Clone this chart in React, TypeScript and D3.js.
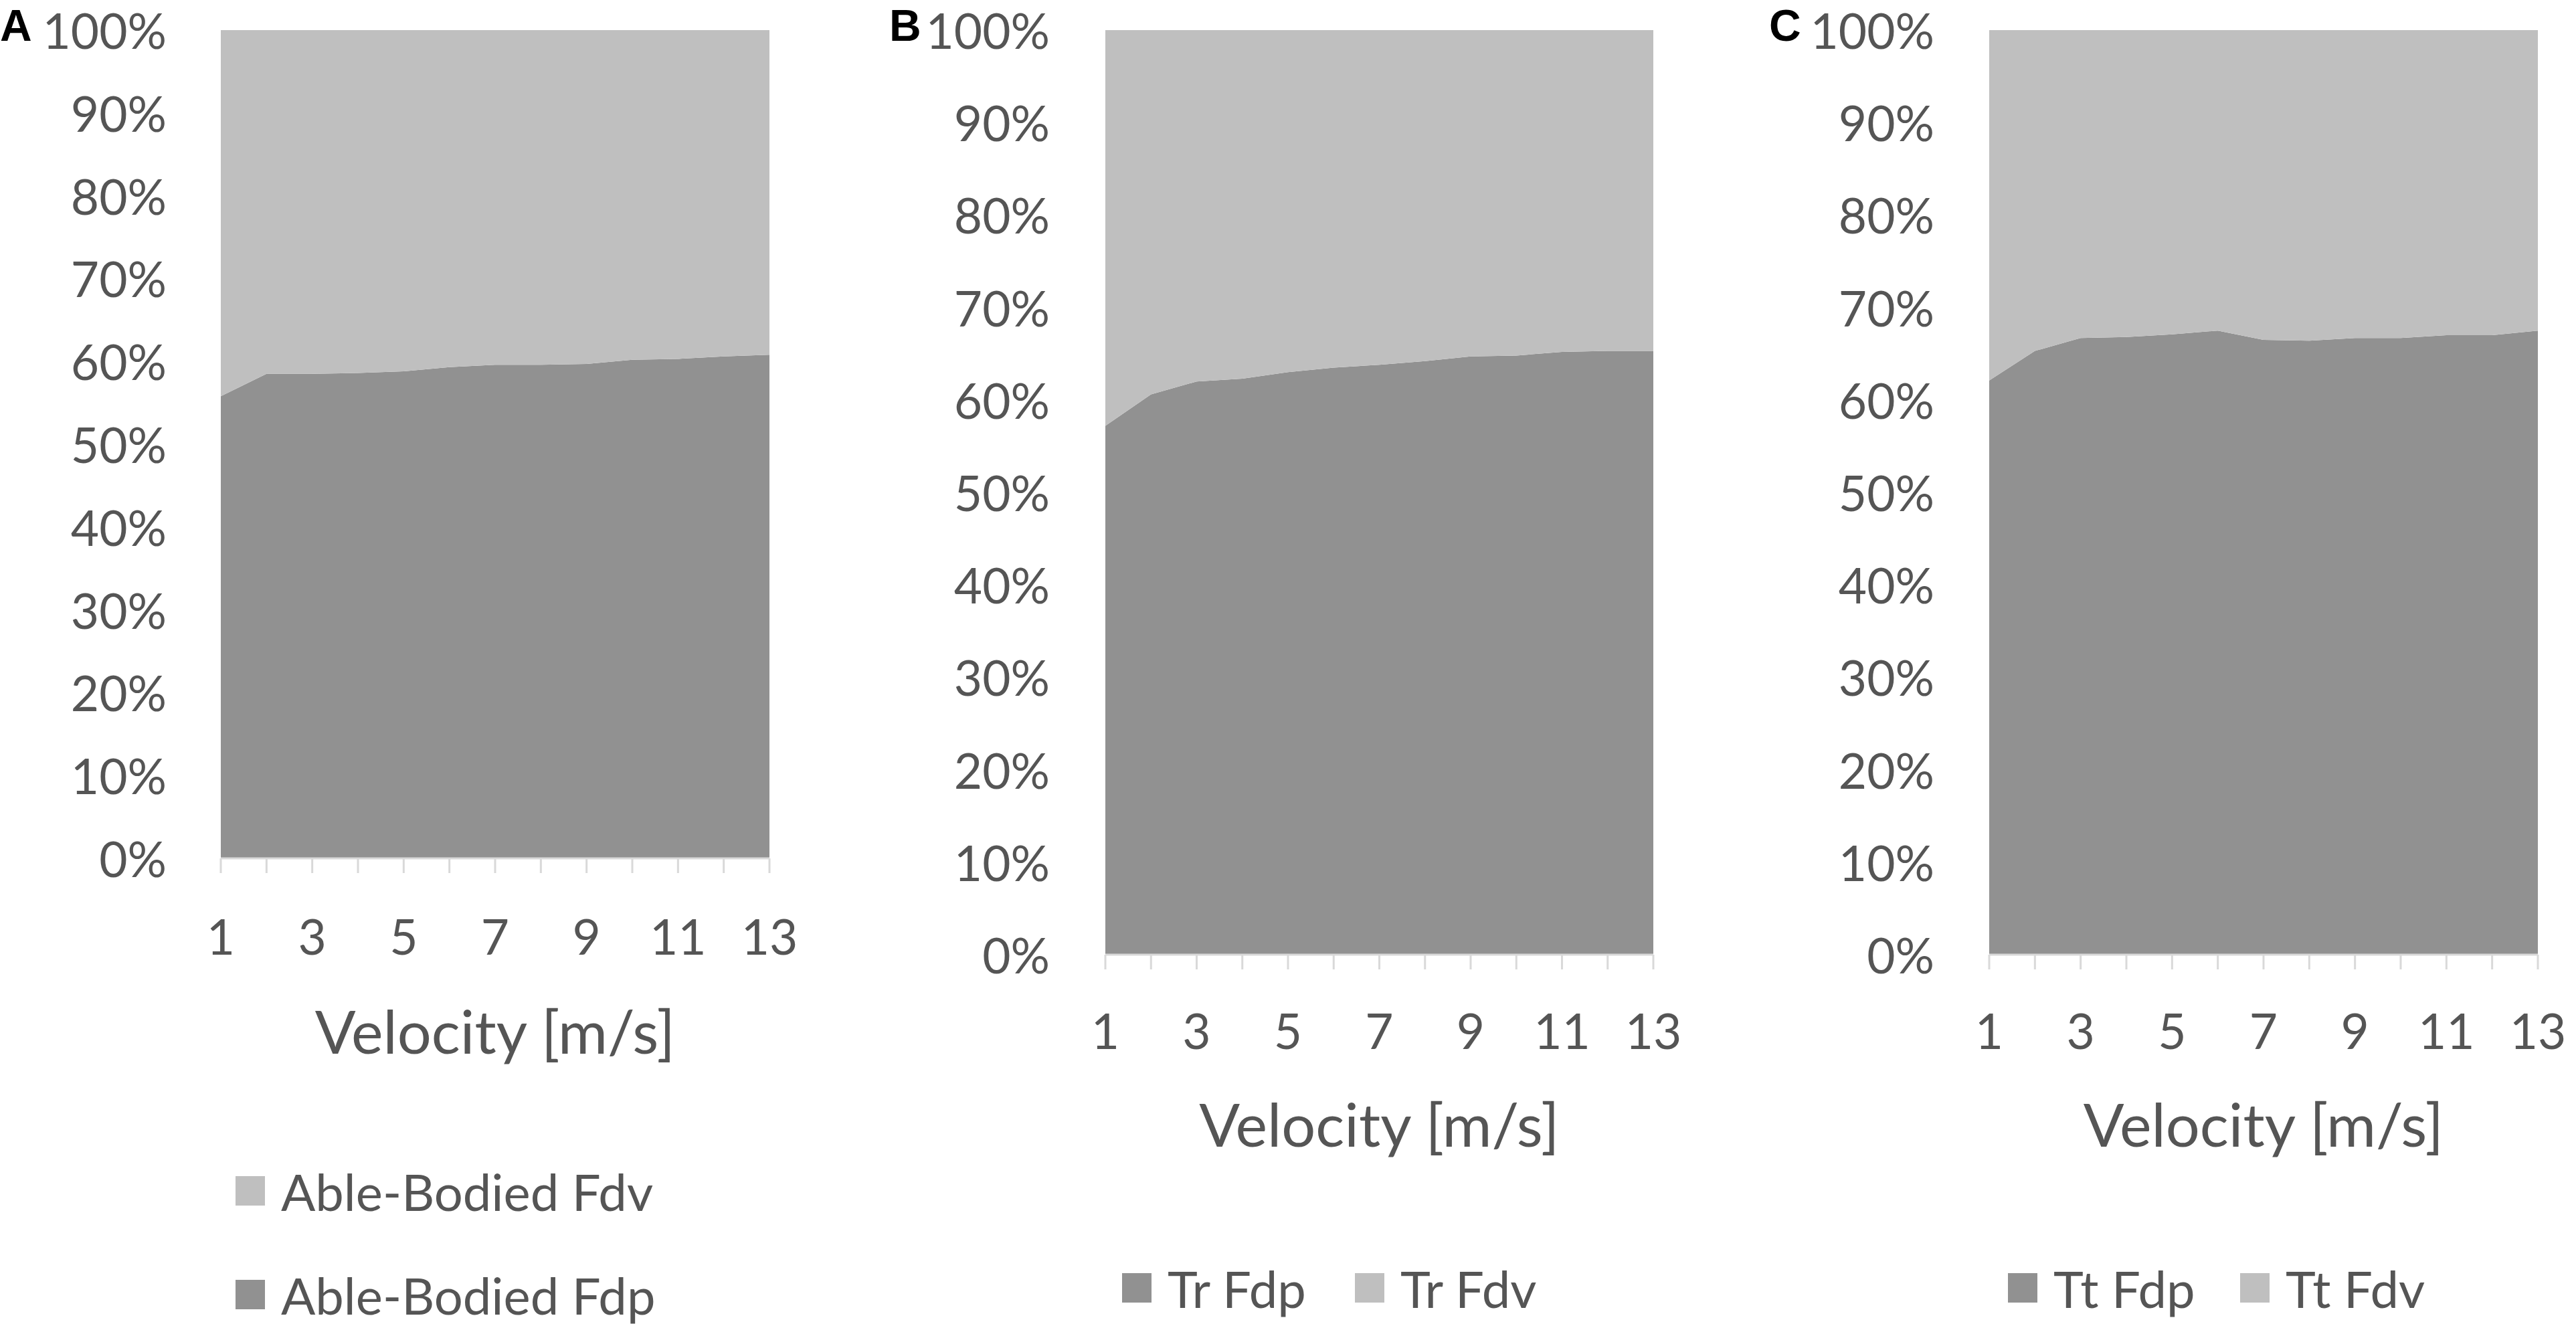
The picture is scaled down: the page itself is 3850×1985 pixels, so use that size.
import React from "react";
import * as d3 from "d3";

const velocities = [1, 2, 3, 4, 5, 6, 7, 8, 9, 10, 11, 12, 13];
const xTickLabels = [1, 3, 5, 7, 9, 11, 13];
const yTickValues = [0, 10, 20, 30, 40, 50, 60, 70, 80, 90, 100];

const ableFdp = [55.8, 58.5, 58.5, 58.6, 58.8, 59.3, 59.6, 59.6, 59.7, 60.2, 60.3, 60.6, 60.8];
const ableFdv = [44.2, 41.5, 41.5, 41.4, 41.2, 40.7, 40.4, 40.4, 40.3, 39.8, 39.7, 39.4, 39.2];

const trFdp = [57.2, 60.6, 62.0, 62.3, 63.0, 63.5, 63.8, 64.2, 64.7, 64.8, 65.2, 65.3, 65.3];
const trFdv = [42.8, 39.4, 38.0, 37.7, 37.0, 36.5, 36.2, 35.8, 35.3, 35.2, 34.8, 34.7, 34.7];

const ttFdp = [62.1, 65.3, 66.7, 66.8, 67.1, 67.5, 66.5, 66.4, 66.7, 66.7, 67.0, 67.0, 67.5];
const ttFdv = [37.9, 34.7, 33.3, 33.2, 32.9, 32.5, 33.5, 33.6, 33.3, 33.3, 33.0, 33.0, 32.5];

const DARK = "#919191";
const LIGHT = "#bfbfbf";
const TEXT = "#555555";
const FONT = "Lato, 'Open Sans', sans-serif";

type LegendItem = { label: string; color: string; x: number; y: number };

type PanelSpec = {
  letter: string;
  letterX: number;
  left: number;
  right: number;
  top: number;
  bottom: number;
  yLabelRight: number;
  xTickY: number;
  xTitleY: number;
  fdp: number[];
  fdv: number[];
  legend: LegendItem[];
};

const panels: PanelSpec[] = [
  {
    letter: "A",
    letterX: 0,
    left: 330,
    right: 1150,
    top: 45,
    bottom: 1283,
    yLabelRight: 249,
    xTickY: 1399,
    xTitleY: 1540,
    fdp: ableFdp,
    fdv: ableFdv,
    legend: [
      { label: "Able-Bodied Fdv", color: LIGHT, x: 352, y: 1780 },
      { label: "Able-Bodied Fdp", color: DARK, x: 352, y: 1935 },
    ],
  },
  {
    letter: "B",
    letterX: 1329,
    left: 1652,
    right: 2471,
    top: 45,
    bottom: 1427,
    yLabelRight: 1569,
    xTickY: 1540,
    xTitleY: 1679,
    fdp: trFdp,
    fdv: trFdv,
    legend: [
      { label: "Tr Fdp", color: DARK, x: 1677, y: 1925 },
      { label: "Tr Fdv", color: LIGHT, x: 2025, y: 1925 },
    ],
  },
  {
    letter: "C",
    letterX: 2644,
    left: 2973,
    right: 3793,
    top: 45,
    bottom: 1427,
    yLabelRight: 2891,
    xTickY: 1540,
    xTitleY: 1679,
    fdp: ttFdp,
    fdv: ttFdv,
    legend: [
      { label: "Tt Fdp", color: DARK, x: 3001, y: 1925 },
      { label: "Tt Fdv", color: LIGHT, x: 3348, y: 1925 },
    ],
  },
];

function Panel({ p }: { p: PanelSpec }) {
  const x = d3.scaleLinear().domain([1, 13]).range([p.left, p.right]);
  const y = d3.scaleLinear().domain([0, 1]).range([p.bottom, p.top]);

  const rows = velocities.map((v, i) => ({ v, fdp: p.fdp[i], fdv: p.fdv[i] }));
  const stack = d3
    .stack<{ v: number; fdp: number; fdv: number }>()
    .keys(["fdp", "fdv"])
    .offset(d3.stackOffsetExpand);
  const series = stack(rows);
  const area = d3
    .area<any>()
    .x((d) => x(d.data.v))
    .y0((d) => y(d[0]))
    .y1((d) => y(d[1]));
  const colors = [DARK, LIGHT];
  const markerSize = 44;

  return (
    <g>
      <text
        x={p.letterX}
        y={61}
        fontFamily="'Liberation Sans', Arial, sans-serif"
        fontWeight="bold"
        fontSize={66}
        fill="#000"
      >
        {p.letter}
      </text>
      {series.map((s, i) => (
        <path key={i} d={area(s) || ""} fill={colors[i]} />
      ))}
      <line x1={p.left} x2={p.right} y1={p.bottom} y2={p.bottom} stroke="#d9d9d9" strokeWidth={3} />
      {velocities.map((v) => (
        <line
          key={v}
          x1={x(v)}
          x2={x(v)}
          y1={p.bottom}
          y2={p.bottom + 22}
          stroke="#d9d9d9"
          strokeWidth={3}
        />
      ))}
      {yTickValues.map((t) => (
        <text
          key={t}
          x={p.yLabelRight}
          y={y(t / 100)}
          textAnchor="end"
          dominantBaseline="central"
          fontFamily={FONT}
          fontSize={73}
          fill={TEXT}
        >
          {t + "%"}
        </text>
      ))}
      {xTickLabels.map((t) => (
        <text
          key={t}
          x={x(t)}
          y={p.xTickY}
          textAnchor="middle"
          dominantBaseline="central"
          fontFamily={FONT}
          fontSize={73}
          fill={TEXT}
        >
          {t}
        </text>
      ))}
      <text
        x={(p.left + p.right) / 2}
        y={p.xTitleY}
        textAnchor="middle"
        dominantBaseline="central"
        fontFamily={FONT}
        fontSize={90}
        fill={TEXT}
      >
        Velocity [m/s]
      </text>
      {p.legend.map((l) => (
        <g key={l.label}>
          <rect x={l.x} y={l.y - markerSize / 2} width={markerSize} height={markerSize} fill={l.color} />
          <text
            x={l.x + markerSize + 24}
            y={l.y}
            dominantBaseline="central"
            fontFamily={FONT}
            fontSize={76}
            fill={TEXT}
          >
            {l.label}
          </text>
        </g>
      ))}
    </g>
  );
}

export default function App() {
  return (
    <svg
      width={3850}
      height={1985}
      viewBox="0 0 3850 1985"
      style={{ position: "absolute", left: 0, top: 0, background: "#fff", display: "block" }}
    >
      <rect x={0} y={0} width={3850} height={1985} fill="#fff" />
      {panels.map((p) => (
        <Panel key={p.letter} p={p} />
      ))}
    </svg>
  );
}
